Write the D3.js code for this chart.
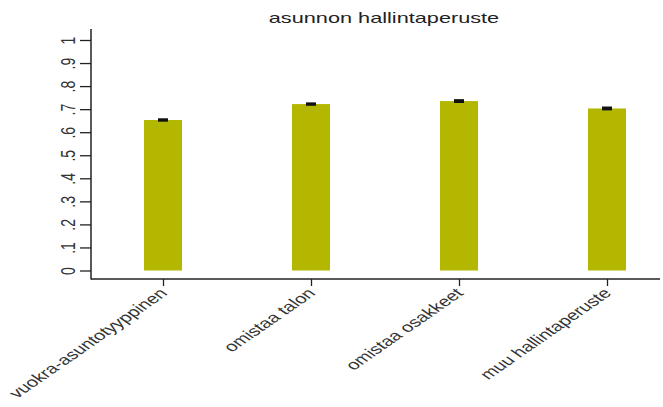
<!DOCTYPE html>
<html><head><meta charset="utf-8">
<script src="https://cdn.jsdelivr.net/npm/d3@7"></script>
<style>body{margin:0;background:#fff}svg{display:block}text{font-family:"Liberation Sans",Arial,sans-serif}</style>
</head><body><div id="chart"></div>
<script>
const title = "asunnon hallintaperuste";
const categories = ["vuokra-asuntotyyppinen", "omistaa talon", "omistaa osakkeet", "muu hallintaperuste"];
const values = [0.653, 0.722, 0.735, 0.703];
const errors = [0.002, 0.002, 0.003, 0.003];
const yTicks = [0, 0.1, 0.2, 0.3, 0.4, 0.5, 0.6, 0.7, 0.8, 0.9, 1];
const yTickLabels = ["0", ".1", ".2", ".3", ".4", ".5", ".6", ".7", ".8", ".9", "1"];

const W = 663, H = 407;
const SX = 1.44; // horizontal stretch of text glyphs seen in the reference
const svg = d3.select("#chart").append("svg").attr("width", W).attr("height", H);

const axisX = 91, axisY = 279;
const x = d3.scalePoint().domain(categories).range([163, 607]);
const y = d3.scaleLinear().domain([0, 1]).range([270.5, 40]);
const barW = 38;

// title
svg.append("text").attr("transform", `translate(384,23) scale(${SX},1)`).attr("text-anchor", "middle")
  .attr("font-size", 14).attr("fill", "#222").attr("textLength", 160).attr("lengthAdjust", "spacingAndGlyphs").text(title);

// bars
svg.selectAll("rect.bar").data(values).join("rect").attr("class", "bar")
  .attr("x", (d, i) => x(categories[i]) - barW / 2)
  .attr("y", d => y(d))
  .attr("width", barW)
  .attr("height", d => y(0) - y(d))
  .attr("fill", "#b3b700");

// error bars
const eg = svg.append("g").attr("stroke", "#111").attr("stroke-width", 2.5);
values.forEach((v, i) => {
  const cx = x(categories[i]);
  eg.append("line").attr("x1", cx).attr("x2", cx).attr("y1", y(v - errors[i])).attr("y2", y(v + errors[i]));
  eg.append("line").attr("x1", cx - 5).attr("x2", cx + 5).attr("y1", y(v + errors[i])).attr("y2", y(v + errors[i]));
  eg.append("line").attr("x1", cx - 5).attr("x2", cx + 5).attr("y1", y(v - errors[i])).attr("y2", y(v - errors[i]));
});

// y axis
const yAxis = d3.axisLeft(y).tickValues(yTicks).tickSize(11).tickFormat((d, i) => yTickLabels[i]);
const gy = svg.append("g").attr("transform", `translate(${axisX},0)`).call(yAxis);
gy.select(".domain").remove();
gy.selectAll(".tick line").attr("stroke", "#222").attr("stroke-width", 1.3);
gy.selectAll(".tick text").attr("font-size", 14).attr("fill", "#333")
  .attr("x", 0).attr("y", 0).attr("dy", "0").attr("text-anchor", "middle")
  .attr("transform", `translate(-16,0) scale(${SX},1) rotate(-90)`);
svg.append("line").attr("x1", axisX).attr("x2", axisX).attr("y1", 29).attr("y2", axisY + 0.5)
  .attr("stroke", "#222").attr("stroke-width", 1.5);

// x axis
const xAxis = d3.axisBottom(x).tickSize(7).tickSizeOuter(0);
const gx = svg.append("g").attr("transform", `translate(0,${axisY})`).call(xAxis);
gx.select(".domain").remove();
svg.append("line").attr("x1", axisX).attr("x2", 660).attr("y1", axisY).attr("y2", axisY)
  .attr("stroke", "#222").attr("stroke-width", 1.5);
gx.selectAll(".tick line").attr("stroke", "#222").attr("stroke-width", 1.3);
gx.selectAll(".tick text").attr("font-size", 14).attr("fill", "#333")
  .attr("text-anchor", "end").attr("y", 0).attr("dy", "0")
  .attr("transform", `translate(5,15) scale(${SX},1) rotate(-45)`);
</script></body></html>
